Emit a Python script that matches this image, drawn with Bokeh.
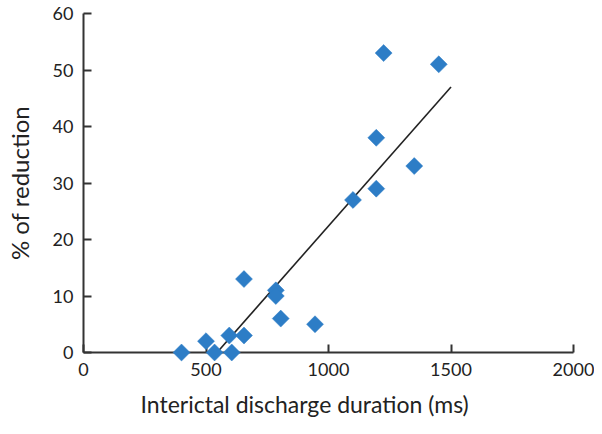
import math
from bokeh.plotting import figure
from bokeh.models import Range1d, FixedTicker, Title
from bokeh.embed import file_html
from bokeh.resources import INLINE

# Data
duration_ms = [400, 500, 535, 595, 605, 655, 655, 785, 785, 805, 945, 1100, 1195, 1195, 1225, 1350, 1450]
reduction_pct = [0, 2, 0, 3, 0, 3, 13, 11, 10, 6, 5, 27, 38, 29, 53, 33, 51]
fit_x = [545, 1500]
fit_y = [0, 47]
x_ticks = [0, 500, 1000, 1500, 2000]
y_ticks = [0, 10, 20, 30, 40, 50, 60]

FONT = "Lato"
AX = "#333333"

p = figure(width=594, height=426, output_backend="svg", toolbar_location=None,
           x_range=Range1d(0, 2000), y_range=Range1d(0, 60),
           min_border_left=83, min_border_right=21, min_border_top=13, min_border_bottom=10)
p.outline_line_color = None
p.grid.grid_line_color = None
p.background_fill_color = "white"

p.line(fit_x, fit_y, line_color="#222222", line_width=1.6)
p.scatter(duration_ms, reduction_pct, marker="square", size=12, angle=math.pi / 4,
          fill_color="#2d7dc6", line_color="#2d7dc6", line_width=0.5, level="overlay")

for ax in (p.xaxis[0], p.yaxis[0]):
    ax.axis_line_color = AX
    ax.axis_line_width = 2
    ax.major_tick_line_color = AX
    ax.major_tick_line_width = 2
    ax.major_tick_in = 8
    ax.major_tick_out = 0
    ax.minor_tick_line_color = None
    ax.major_label_text_font = FONT
    ax.major_label_text_font_size = "18px"
    ax.major_label_text_color = "#222222"
    ax.axis_label_text_font = FONT
    ax.axis_label_text_font_size = "24px"
    ax.axis_label_text_font_style = "normal"
    ax.axis_label_text_color = "#222222"

p.xaxis.ticker = FixedTicker(ticks=x_ticks)
p.yaxis.ticker = FixedTicker(ticks=y_ticks)
p.yaxis.axis_label = "% of reduction"
p.xaxis.major_label_standoff = 10
p.yaxis.major_label_standoff = 10
p.yaxis.axis_label_standoff = 16

xt = Title(text="Interictal discharge duration (ms)", align="left", offset=57,
           text_font=FONT, text_font_size="23px", text_font_style="normal",
           text_color="#222222", standoff=18)
p.add_layout(xt, "below")

open("out.html", "w").write(file_html(p, INLINE))
